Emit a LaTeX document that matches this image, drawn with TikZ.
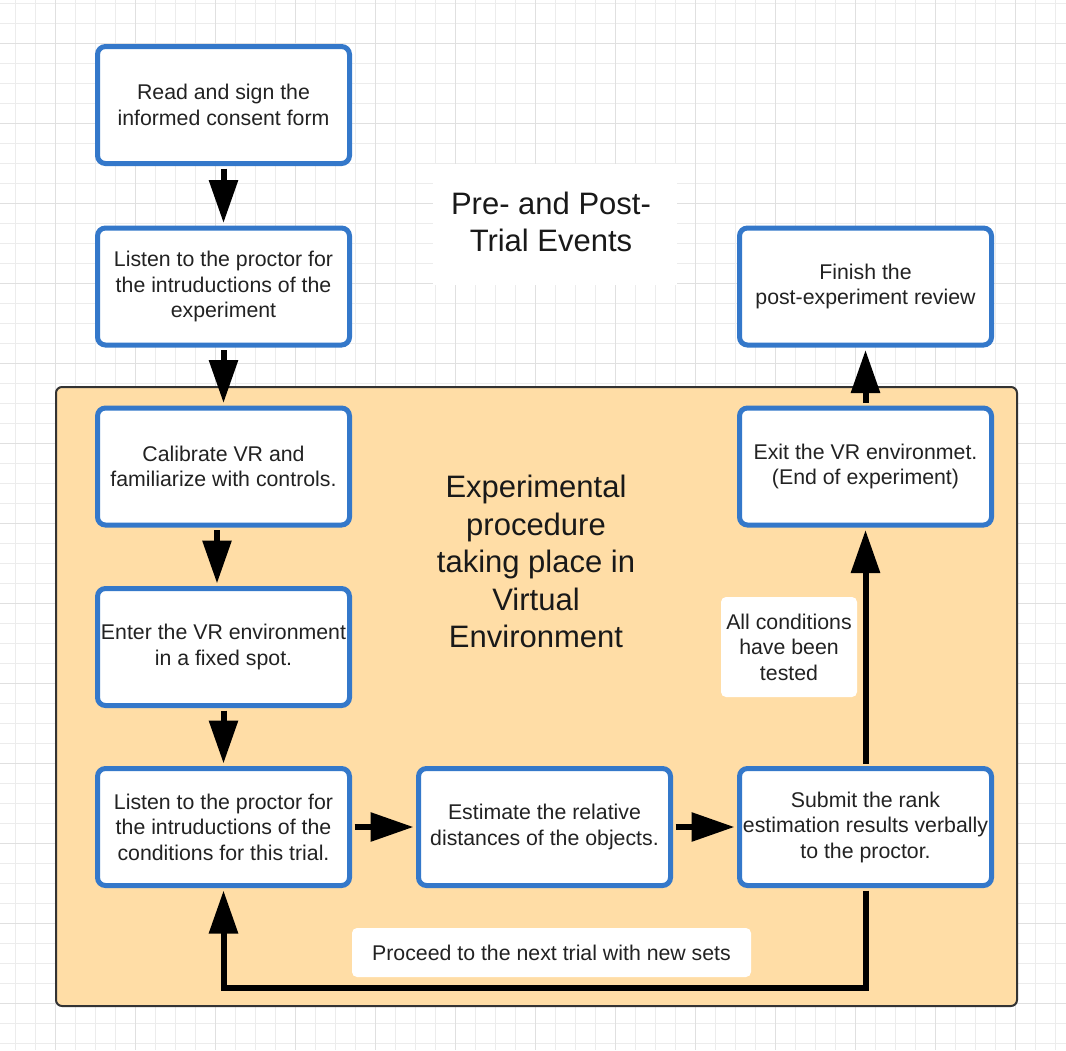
\documentclass[tikz,border=0pt]{standalone}
\usepackage{fontspec}
\setmainfont{Liberation Sans}
\usetikzlibrary{arrows.meta}
\definecolor{boxblue}{RGB}{52,120,202}
\definecolor{procfill}{RGB}{255,221,166}
\definecolor{gridlight}{RGB}{236,236,236}
\definecolor{griddark}{RGB}{224,224,224}
\definecolor{txt}{RGB}{34,34,34}
\tikzset{
  stepbox/.style={draw=boxblue, line width=5pt, fill=white, rounded corners=8pt,
    minimum width=252pt, minimum height=117pt, inner sep=0pt, align=center,
    text=txt, font=\fontsize{21.3}{25.5}\selectfont},
  lbl/.style={fill=white, rounded corners=5pt, inner sep=0pt, align=center,
    text=txt, font=\fontsize{21.3}{25.5}\selectfont},
  arr/.style={line width=6pt, -{Triangle[length=43pt,width=28pt]}, shorten >=2.5pt, shorten <=2.5pt},
}
\begin{document}
\begin{tikzpicture}[x=1pt,y=-1pt]
\useasboundingbox (0,0) rectangle (1066,1050);
\fill[white] (0,0) rectangle (1066,1050);
% grid
\foreach \gx in {15,35,...,1065} {\draw[gridlight, line width=1pt] (\gx,0) -- (\gx,1050);}
\foreach \gy in {3.3,23.3,...,1050} {\draw[gridlight, line width=1pt] (0,\gy) -- (1066,\gy);}
\foreach \gx in {55,135,...,1065} {\draw[griddark, line width=1pt] (\gx,0) -- (\gx,1050);}
\foreach \gy in {43.3,123.3,...,1050} {\draw[griddark, line width=1pt] (0,\gy) -- (1066,\gy);}
% container
\draw[draw=black!80, line width=2pt, fill=procfill, rounded corners=6pt] (56,387) rectangle (1017,1006);
% title
\node[fill=white, minimum width=244pt, minimum height=121pt, inner sep=0pt] (titlebg) at (555,224.5) {};
\node[align=center, font=\fontsize{31}{37.5}\selectfont, text=black!90] (title) at (551,222) {Pre- and Post-\\Trial Events};
\node[align=center, font=\fontsize{31}{37.5}\selectfont, text=black!90] (exptitle) at (536,561.5) {Experimental\\procedure\\taking place in\\Virtual\\Environment};
% boxes
\node[stepbox] (read) at (223.5,105) {Read and sign the\\informed consent form};
\node[stepbox] (listen1) at (223.5,286.5) {Listen to the proctor for\\the intruductions of the\\experiment};
\node[stepbox] (calib) at (223.5,466.5) {Calibrate VR and\\familiarize with controls.};
\node[stepbox] (enter) at (223.5,647) {Enter the VR environment\\in a fixed spot.};
\node[stepbox] (listen2) at (223.5,827) {Listen to the proctor for\\the intruductions of the\\conditions for this trial.};
\node[stepbox] (estimate) at (544.5,827) {Estimate the relative\\distances of the objects.};
\node[stepbox] (submit) at (865.5,827) {Submit the rank\\estimation results verbally\\to the proctor.};
\node[stepbox] (exit) at (865.5,466.5) {Exit the VR environmet.\\(End of experiment)};
\node[stepbox] (finish) at (865.5,286.5) {Finish the\\post-experiment review};
% labels
\node[lbl, minimum width=136pt, minimum height=100pt] (allcond) at (789,647) {All conditions\\have been\\tested};
\node[lbl, minimum width=399pt, minimum height=49pt] (proceed) at (551.5,952.5) {Proceed to the next trial with new sets};
% arrows
\draw[arr] (read.south) -- (listen1.north);
\draw[arr] (listen1.south) -- (calib.north);
\draw[arr] ([xshift=-6.5pt]calib.south) -- ([xshift=-6.5pt]enter.north);
\draw[arr] (enter.south) -- (listen2.north);
\draw[arr] (listen2.east) -- (estimate.west);
\draw[arr] (estimate.east) -- (submit.west);
\draw[arr] (submit.north) -- (exit.south);
\draw[arr] (exit.north) -- (finish.south);
\coordinate (loopcorner) at (865.5,988);
\draw[arr] (submit.south) -- (loopcorner) -| (listen2.south);
\end{tikzpicture}
\end{document}
